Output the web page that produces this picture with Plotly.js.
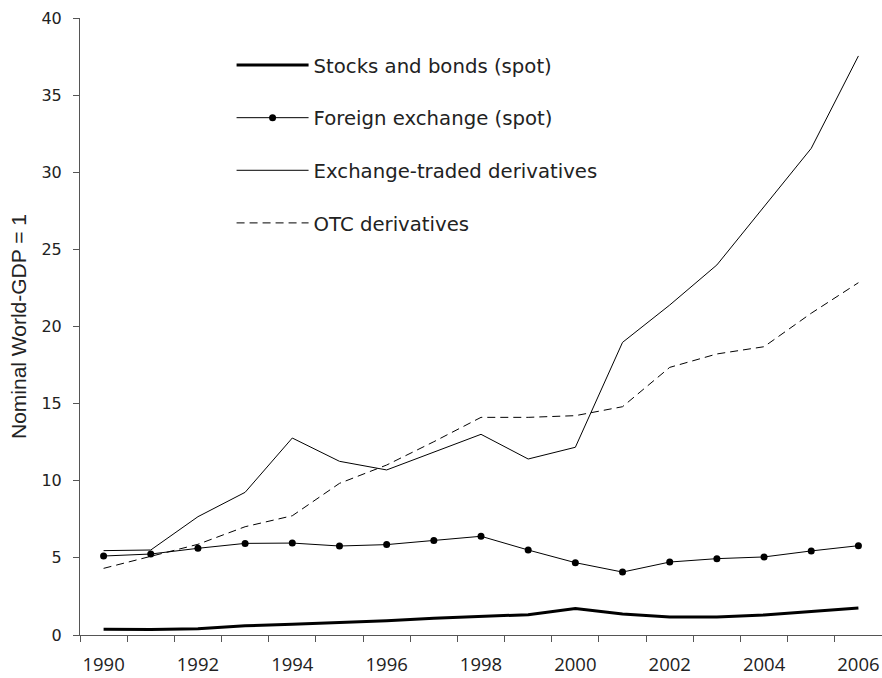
<!DOCTYPE html>
<html>
<head>
<meta charset="utf-8">
<script src="https://cdn.plot.ly/plotly-3.0.1.min.js"></script>
<style>html,body{margin:0;padding:0;background:#fff;}#chart{width:882px;height:678px;}</style>
</head>
<body>
<div id="chart"></div>
<script>
const years = [1990,1991,1992,1993,1994,1995,1996,1997,1998,1999,2000,2001,2002,2003,2004,2005,2006];
const tickYears = [1990,1992,1994,1996,1998,2000,2002,2004,2006];
const stocksBonds = [0.37,0.35,0.41,0.60,0.69,0.80,0.93,1.08,1.21,1.32,1.71,1.36,1.17,1.17,1.30,1.51,1.75];
const foreignExchange = [5.12,5.25,5.62,5.94,5.96,5.77,5.86,6.12,6.40,5.51,4.69,4.08,4.73,4.95,5.06,5.45,5.79];
const exchangeTraded = [5.47,5.51,7.67,9.25,12.77,11.26,10.70,11.88,13.01,11.41,12.17,18.97,21.39,23.99,27.80,31.55,37.54];
const otc = [4.32,5.08,5.88,7.02,7.73,9.83,11.02,12.53,14.11,14.11,14.22,14.80,17.35,18.22,18.69,20.86,22.84];
const seriesNames = ["Stocks and bonds (spot)","Foreign exchange (spot)","Exchange-traded derivatives","OTC derivatives"];

const boundaries = years.map(y => y - 0.5).concat([years[years.length-1] + 0.5]);

const traces = [
  {x: years, y: stocksBonds, name: seriesNames[0], mode: 'lines', legendgroup: 'a',
   line: {color: '#000', width: 3}},
  {x: years, y: foreignExchange, name: seriesNames[1], mode: 'lines+markers', legendgroup: 'b',
   line: {color: '#000', width: 1}, marker: {color: '#000', size: 7}},
  {x: years, y: exchangeTraded, name: seriesNames[2], mode: 'lines', legendgroup: 'c',
   line: {color: '#000', width: 1}},
  {x: years, y: otc, name: seriesNames[3], mode: 'lines', legendgroup: 'd',
   line: {color: '#000', width: 1, dash: '8px,5px'}}
];

const layout = {
  width: 882, height: 678,
  margin: {l: 80, r: 0, t: 18, b: 43},
  paper_bgcolor: '#fff', plot_bgcolor: '#fff',
  showlegend: true,
  legend: {x: 0.189, y: 0.955, xanchor: 'left', yanchor: 'top', bgcolor: 'rgba(0,0,0,0)',
    font: {family: 'DejaVu Sans', size: 19.7, color: '#222'}, tracegroupgap: 24, itemwidth: 72,
    traceorder: 'grouped'},
  xaxis: {
    range: [1989.5, 2006.5], tickmode: 'array', tickvals: tickYears, ticktext: tickYears.map(String),
    ticks: '', showgrid: false, zeroline: false, showline: true, linecolor: '#555', linewidth: 1,
    tickfont: {family: 'Open Sans', size: 18.5, color: '#222'}, ticklabelstandoff: 13,
    minor: {tickmode: 'array', tickvals: boundaries, ticks: 'outside', ticklen: 6, tickcolor: '#555', tickwidth: 1, showgrid: false}
  },
  yaxis: {
    range: [0, 40], dtick: 5, tick0: 0, ticks: 'outside', ticklen: 6, tickcolor: '#555', tickwidth: 1,
    showgrid: false, zeroline: false, showline: true, linecolor: '#555', linewidth: 1,
    tickfont: {family: 'DejaVu Sans', size: 16, color: '#222'}, ticklabelstandoff: 8,
    title: {text: 'Nominal World-GDP = 1', standoff: 9, font: {family: 'Liberation Sans', size: 21, color: '#222'}}
  }
};

Plotly.newPlot('chart', traces, layout, {displayModeBar: false, staticPlot: true});
</script>
</body>
</html>
